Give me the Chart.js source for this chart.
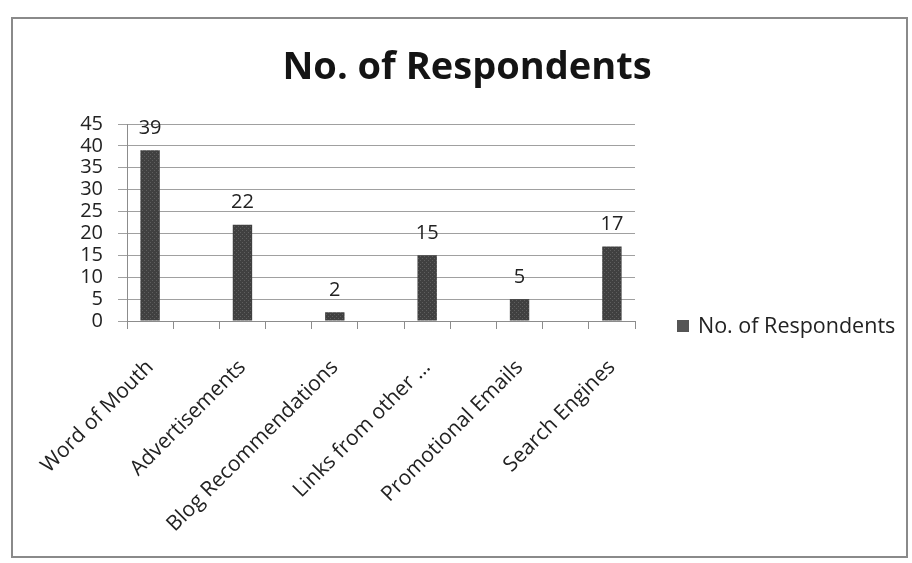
<!DOCTYPE html>
<html>
<head>
<meta charset="utf-8">
<title>No. of Respondents</title>
<script src="https://cdn.jsdelivr.net/npm/chart.js@4.4.1/dist/chart.umd.min.js"></script>
<style>
  html, body { margin: 0; padding: 0; background: #ffffff; }
  #wrap { width: 912px; height: 563px; position: relative; }
  canvas { display: block; }
</style>
</head>
<body>
<div id="wrap"><canvas id="chart" width="912" height="563"></canvas></div>
<script>
// Survey data: how respondents found out about the site
const categories = ['Word of Mouth', 'Advertisements', 'Blog Recommendations', 'Links from other \u2026', 'Promotional Emails', 'Search Engines'];
const respondents = [39, 22, 2, 15, 5, 17];
const seriesName = 'No. of Respondents';
const yMin = 0;
const yMax = 45;
const yStep = 5;

// The category axis keeps an empty slot between neighbouring sources,
// so the tick marks fall twice as often as the bars.
const slotLabels = [];
const slotValues = [];
categories.forEach((c, i) => {
  slotLabels.push(c);
  slotValues.push(respondents[i]);
  if (i < categories.length - 1) {
    slotLabels.push('');
    slotValues.push(null);
  }
});

const FONT = "'Open Sans', 'DejaVu Sans', sans-serif";

// Speckled dark-grey fill for the bars
function makeBarPattern() {
  const p = document.createElement('canvas');
  p.width = 4; p.height = 4;
  const g = p.getContext('2d');
  g.fillStyle = '#404040';
  g.fillRect(0, 0, 4, 4);
  g.fillStyle = '#5e5e5e';
  g.fillRect(0, 0, 1, 1);
  g.fillRect(2, 2, 1, 1);
  return g.createPattern(p, 'repeat');
}

// White background, outer frame, title and legend
const framePlugin = {
  id: 'frame',
  beforeDraw(chart) {
    const ctx = chart.ctx;
    ctx.save();
    ctx.fillStyle = '#ffffff';
    ctx.fillRect(0, 0, chart.width, chart.height);
    ctx.strokeStyle = '#8a8a8a';
    ctx.lineWidth = 2;
    ctx.strokeRect(12, 18, 895, 539);
    ctx.restore();
  },
  afterDraw(chart) {
    const ctx = chart.ctx;
    ctx.save();
    // title
    ctx.fillStyle = '#141414';
    ctx.font = 'bold 38px ' + FONT;
    ctx.textAlign = 'center';
    ctx.textBaseline = 'middle';
    ctx.fillText(seriesName, 467, 68);
    // legend
    ctx.fillStyle = '#555555';
    ctx.fillRect(677, 320, 12, 12);
    ctx.fillStyle = '#222222';
    ctx.font = '21.5px ' + FONT;
    ctx.textAlign = 'left';
    ctx.fillText(chart.data.datasets[0].label, 698, 327);
    ctx.restore();
  }
};

// Value written above each bar
const valueLabels = {
  id: 'valueLabels',
  afterDatasetsDraw(chart) {
    const ctx = chart.ctx;
    const meta = chart.getDatasetMeta(0);
    const data = chart.data.datasets[0].data;
    ctx.save();
    ctx.fillStyle = '#222222';
    ctx.font = '20px ' + FONT;
    ctx.textAlign = 'center';
    ctx.textBaseline = 'bottom';
    meta.data.forEach((bar, i) => {
      if (data[i] === null) return;
      ctx.fillText(String(data[i]), bar.x, bar.y - 12);
    });
    ctx.restore();
  }
};

new Chart(document.getElementById('chart'), {
  type: 'bar',
  data: {
    labels: slotLabels,
    datasets: [{
      label: seriesName,
      data: slotValues,
      backgroundColor: makeBarPattern(),
      borderWidth: 0,
      categoryPercentage: 1.0,
      barPercentage: 0.42,
      skipNull: true
    }]
  },
  options: {
    responsive: false,
    animation: false,
    devicePixelRatio: 1,
    layout: { padding: { left: 14, right: 277, top: 124, bottom: 10 } },
    plugins: {
      legend: { display: false },
      title: { display: false },
      tooltip: { enabled: false }
    },
    scales: {
      x: {
        offset: true,
        grid: { display: true, drawOnChartArea: false, offset: true, tickLength: 8, color: '#8c8c8c' },
        border: { color: '#8c8c8c' },
        ticks: {
          autoSkip: false,
          minRotation: 45,
          maxRotation: 45,
          padding: 26,
          color: '#222222',
          font: { family: FONT, size: 21 }
        },
        afterFit(scale) { scale.height = 232; }
      },
      y: {
        min: yMin,
        max: yMax,
        grid: { color: '#a0a0a0', tickLength: 9 },
        border: { color: '#8c8c8c' },
        ticks: {
          stepSize: yStep,
          autoSkip: false,
          padding: 15,
          color: '#222222',
          font: { family: FONT, size: 20 }
        },
        afterFit(scale) { scale.width = 113; }
      }
    }
  },
  plugins: [framePlugin, valueLabels]
});
</script>
</body>
</html>
